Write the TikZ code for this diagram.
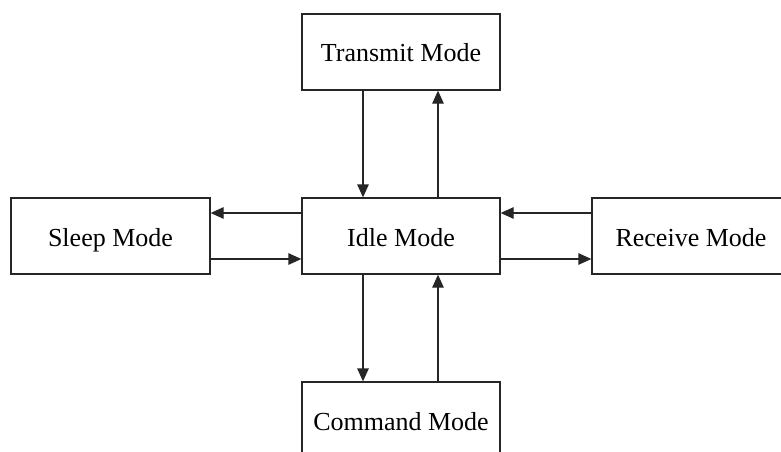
\documentclass[tikz,border=0pt]{standalone}
\usepackage{fontspec}
\setmainfont{Liberation Serif}
\usetikzlibrary{arrows.meta}
\begin{document}
\begin{tikzpicture}[x=1pt,y=-1pt,
  modebox/.style={draw=black!85, line width=1.3pt, minimum width=198pt, minimum height=76pt,
    inner sep=0pt, text height=20pt, text depth=0pt, font=\fontsize{26}{30}\selectfont},
  flow/.style={draw=black!85, line width=1.3pt, -{Triangle[length=13pt,width=11.5pt]}}]
  \useasboundingbox (0,0) rectangle (781,452);
  \clip (0,0) rectangle (781,452);
  % mode boxes
  \node[modebox] (tx)   at (401,52)    {Transmit Mode};
  \node[modebox] (idle) at (401,236)   {Idle Mode};
  \node[modebox, minimum width=199pt] (sleep) at (110.5,236) {Sleep Mode};
  \node[modebox] (rx)   at (691,236)   {Receive Mode};
  \node[modebox] (cmd)  at (401,420)   {Command Mode};
  % lanes for the paired connectors
  \coordinate (vl) at (363,0);
  \coordinate (vr) at (438,0);
  \coordinate (hu) at (0,213);
  \coordinate (hd) at (0,259);
  % vertical connectors
  \draw[flow] (tx.south -| vl) -- (idle.north -| vl);
  \draw[flow] (idle.north -| vr) -- (tx.south -| vr);
  \draw[flow] (idle.south -| vl) -- (cmd.north -| vl);
  \draw[flow] (cmd.north -| vr) -- (idle.south -| vr);
  % horizontal connectors
  \draw[flow] (idle.west |- hu) -- (sleep.east |- hu);
  \draw[flow] (sleep.east |- hd) -- (idle.west |- hd);
  \draw[flow] (rx.west |- hu) -- (idle.east |- hu);
  \draw[flow] (idle.east |- hd) -- (rx.west |- hd);
\end{tikzpicture}
\end{document}
